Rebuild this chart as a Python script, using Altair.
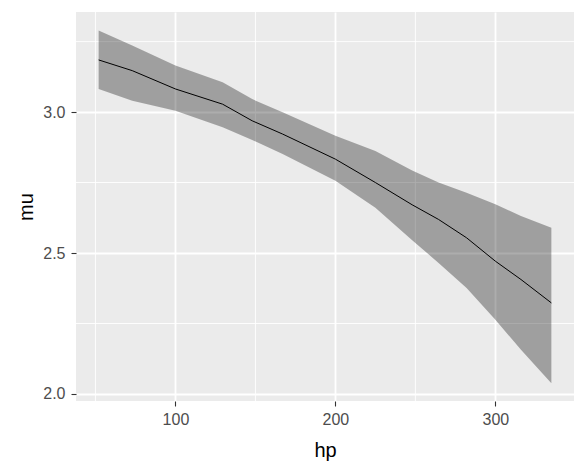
import altair as alt
import pandas as pd

# Values
hp = [52, 73, 100, 129.5, 148, 167, 200, 225, 248, 264.5, 282, 300, 316, 335]
mu_mean = [3.185, 3.147, 3.082, 3.028, 2.969, 2.922, 2.833, 2.750, 2.671, 2.619, 2.554, 2.471, 2.406, 2.323]
mu_upper = [3.289, 3.236, 3.165, 3.106, 3.046, 2.999, 2.916, 2.862, 2.793, 2.750, 2.714, 2.673, 2.631, 2.590]
mu_lower = [3.082, 3.040, 3.005, 2.946, 2.901, 2.851, 2.756, 2.661, 2.545, 2.465, 2.376, 2.263, 2.157, 2.038]

x_major = [100, 200, 300]
x_minor = [50, 150, 250]
y_major = [2.0, 2.5, 3.0]
y_minor = [2.25, 2.75, 3.25]

df = pd.DataFrame({"hp": hp, "mu": mu_mean, "lo": mu_lower, "hi": mu_upper})

FONT = "Liberation Sans"
xs = alt.Scale(domain=[37.85, 349.15], nice=False, zero=False)
ys = alt.Scale(domain=[1.975, 3.355], nice=False, zero=False)

common_axis = dict(
    grid=True, gridColor="white", gridWidth=1.8, domain=False,
    tickColor="#333333", tickSize=5, tickWidth=1.1,
    labelColor="#4D4D4D", labelFontSize=16, labelFont=FONT,
    titleFontSize=20, titleFont=FONT, titleFontWeight="normal", titleColor="black",
)

x_axis = alt.Axis(values=x_major, title="hp", labelPadding=5, titlePadding=13, **common_axis)
y_axis = alt.Axis(values=y_major, title="mu", format=".1f", labelPadding=6, titlePadding=6, **common_axis)

base = alt.Chart(df)
ribbon = base.mark_area(color="black", opacity=0.32).encode(
    x=alt.X("hp:Q", scale=xs, axis=x_axis),
    y=alt.Y("hi:Q", scale=ys, axis=y_axis),
    y2="lo:Q",
)
line = base.mark_line(color="black", strokeWidth=1).encode(
    x=alt.X("hp:Q", scale=xs, axis=x_axis),
    y=alt.Y("mu:Q", scale=ys, axis=y_axis),
)

minor_x = alt.Chart(pd.DataFrame({"v": x_minor})).mark_rule(color="white", strokeWidth=0.9).encode(
    x=alt.X("v:Q", scale=xs, axis=x_axis)
)
minor_y = alt.Chart(pd.DataFrame({"v": y_minor})).mark_rule(color="white", strokeWidth=0.9).encode(
    y=alt.Y("v:Q", scale=ys, axis=y_axis)
)

chart = alt.layer(minor_x, minor_y, ribbon, line).properties(
    width=498, height=389,
    autosize=alt.AutoSizeParams(type="none"),
    padding={"left": 68, "top": 4, "right": 0, "bottom": 64},
    background="white",
).configure_view(fill="#EBEBEB", strokeWidth=0)

chart.save("out.html", embed_options={"renderer": "svg", "actions": False})
